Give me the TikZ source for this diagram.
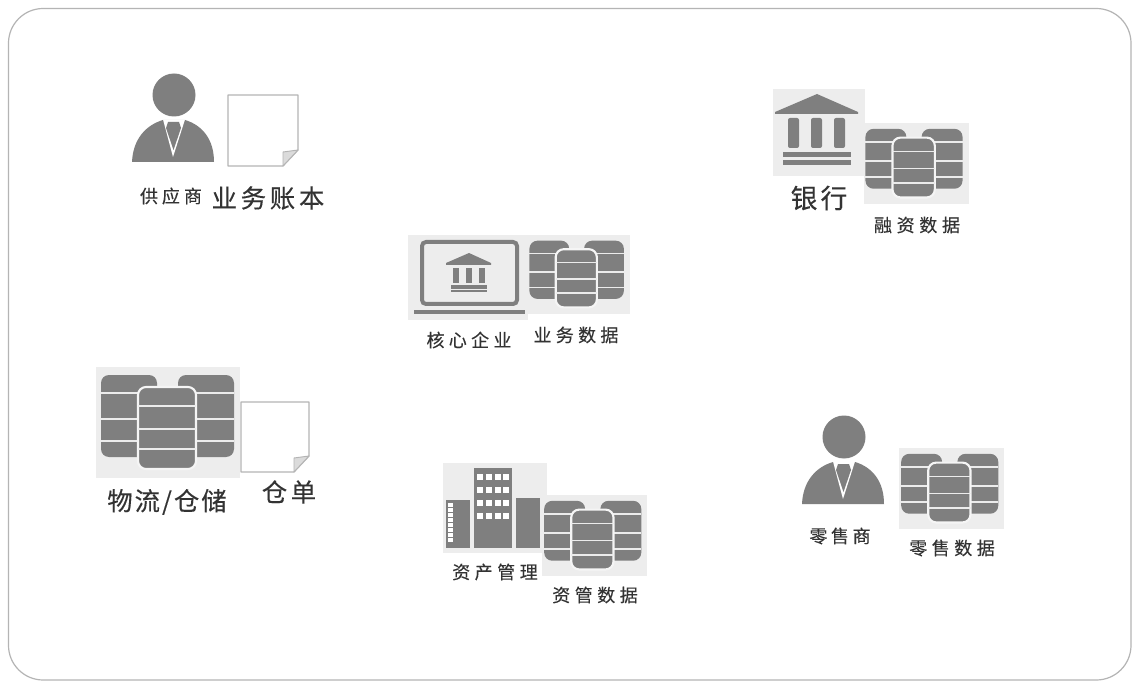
\documentclass[tikz,border=0pt]{standalone}
\usepackage{fontspec}
\newfontfamily\cjk{Noto Sans CJK SC}
\definecolor{ico}{HTML}{7F7F7F}
\definecolor{icobg}{HTML}{EDEDED}
\definecolor{txt}{HTML}{333333}
\definecolor{edgec}{HTML}{B4B4B4}
\tikzset{
  panelbg/.style={fill=icobg,draw=none},
  icon/.style={fill=ico,draw=none},
  wht/.style={fill=white,draw=none},
  paper/.style={fill=white,draw=edgec,line width=0.9pt,line join=round},
  foldc/.style={fill=black!14,draw=edgec,line width=0.7pt,line join=round},
  lab/.style={inner sep=0pt,text=txt,anchor=center},
}
% label: name, x, y, size pt, letter space, text
\newcommand{\lblx}[6]{\node[lab] (#1) at (#2,#3) {\cjk\addfontfeature{LetterSpace=#5,FakeBold=0.25}\fontsize{#4}{#4}\selectfont #6};}
% database: x y scale drum-shift (bg box is 144 x 111 at scale 1)
\newcommand{\dbicon}[4]{%
\begin{scope}[shift={(#1,#2)},scale=#3]
  \fill[panelbg] (0,0) rectangle (144,111);
  \begin{scope}[shift={(#4,0)}]
  \fill[icon,rounded corners=6pt] (5,8) rectangle (61,90);
  \fill[icon,rounded corners=6pt] (82,8) rectangle (138,90);
  \foreach \yy in {26,52,74}{
    \draw[white!85!ico,line width=1.1pt] (5,\yy) -- (61,\yy);
    \draw[white!85!ico,line width=1.1pt] (82,\yy) -- (138,\yy);
  }
  \filldraw[fill=ico,draw=white!92!ico,line width=1.6pt,rounded corners=6pt] (42,20) rectangle (100,102);
  \foreach \yy in {39,62,82}{
    \draw[white!85!ico,line width=1.1pt] (42,\yy) -- (100,\yy);
  }
  \end{scope}
\end{scope}}
% person, origin at head centre
\newcommand{\personicon}[2]{%
\begin{scope}[shift={(#1,#2)}]
  \fill[icon] (0,0) circle (21.5);
  \fill[icon] (-42,67) .. controls (-41,44) and (-28,30) .. (-11,25) -- (11,25) .. controls (28,30) and (40,44) .. (40,67) -- cycle;
  \fill[wht] (-11,24.5) -- (-1,62) -- (11,24.5) -- cycle;
  \fill[icon] (-6,27) -- (5,27) -- (7,33) -- (-0.5,55) -- (-8,33) -- cycle;
\end{scope}}
% paper: x0 y0 x1 y1
\newcommand{\papericon}[4]{%
  \filldraw[paper] (#1,#2) -- (#3,#2) -- ({#3},{#4-16}) -- ({#3-15},#4) -- (#1,#4) -- cycle;
  \filldraw[foldc] ({#3},{#4-16}) -- ({#3-15},{#4-14}) -- ({#3-15},#4) -- cycle;}
\begin{document}
\begin{tikzpicture}[x=0.75pt,y=-0.75pt]
\useasboundingbox (0,0) rectangle (1140,681);
\fill[white] (0,0) rectangle (1140,681);
\draw[edgec,line width=0.9pt,rounded corners=26pt] (8.5,8.5) rectangle (1131,680);

% supplier
\personicon{174}{95}
\papericon{228}{95}{298}{166}
\lblx{gys}{171}{196}{13.5}{22}{供应商}
\lblx{ywzb}{268}{198}{19}{15}{业务账本}

% bank
\fill[panelbg] (773,89) rectangle (865,176);
\fill[icon] (817,94) -- (858,112) -- (858,114) -- (775,114) -- (775,112) -- cycle;
\foreach \xx in {788,811,834}{\fill[icon,rounded corners=1.5pt] (\xx,118) rectangle ({\xx+11},148);}
\fill[icon] (783,152) rectangle (851,157);
\fill[icon] (783,160) rectangle (851,165);
\dbicon{864}{123}{0.73}{-3}
\lblx{yh}{819}{198}{20}{12}{银行}
\lblx{rzsj}{917}{225}{13.5}{26}{融资数据}

% core enterprise
\fill[panelbg] (408,235) rectangle (528,320);
\draw[ico,line width=3pt,rounded corners=3pt] (422,242) rectangle (517,304);
\draw[ico,line width=2.4pt] (414,312) -- (525,312);
\fill[icon] (469,253) -- (491,263) -- (491,265) -- (446,265) -- (446,263) -- cycle;
\foreach \xx in {453,466,479}{\fill[icon] (\xx,268) rectangle ({\xx+6},283);}
\fill[icon] (451,285) rectangle (487,289);
\fill[icon] (451,290) rectangle (487,292.5);
\dbicon{528}{235}{0.71}{-3}
\lblx{hxqy}{469}{340}{13.5}{24}{核心企业}
\lblx{ywsj}{576}{335}{13.5}{24}{业务数据}

% logistics
\dbicon{96}{367}{1}{0}
\papericon{241}{402}{309}{472}
\lblx{wlcc}{167}{502}{19}{8}{物流/仓储}
\lblx{cd}{289}{492}{19}{14}{仓单}

% asset management
\fill[panelbg] (443,463) rectangle (547,553);
\fill[icon] (474,468) rectangle (512,548);
\foreach \yy in {474,487,500,513}{\foreach \xx in {477,486,495,503}{\fill[wht] (\xx,\yy) rectangle ({\xx+6},{\yy+6});}}
\fill[icon] (446,500) rectangle (470,548);
\foreach \yy in {503,508,513,518,523,528,533,538}{\fill[wht] (448,\yy) rectangle (453,{\yy+3.5});}
\fill[icon] (516,498) rectangle (540,548);
\dbicon{542}{495}{0.73}{-2}
\lblx{zcgl}{495}{572}{13.5}{25}{资产管理}
\lblx{zgsj}{595}{595}{13.5}{25}{资管数据}

% retailer
\personicon{844}{437}
\dbicon{899}{448}{0.73}{-2}
\lblx{lss}{840}{536}{13.5}{20}{零售商}
\lblx{lssj}{952}{548}{13.5}{25}{零售数据}
\end{tikzpicture}
\end{document}
